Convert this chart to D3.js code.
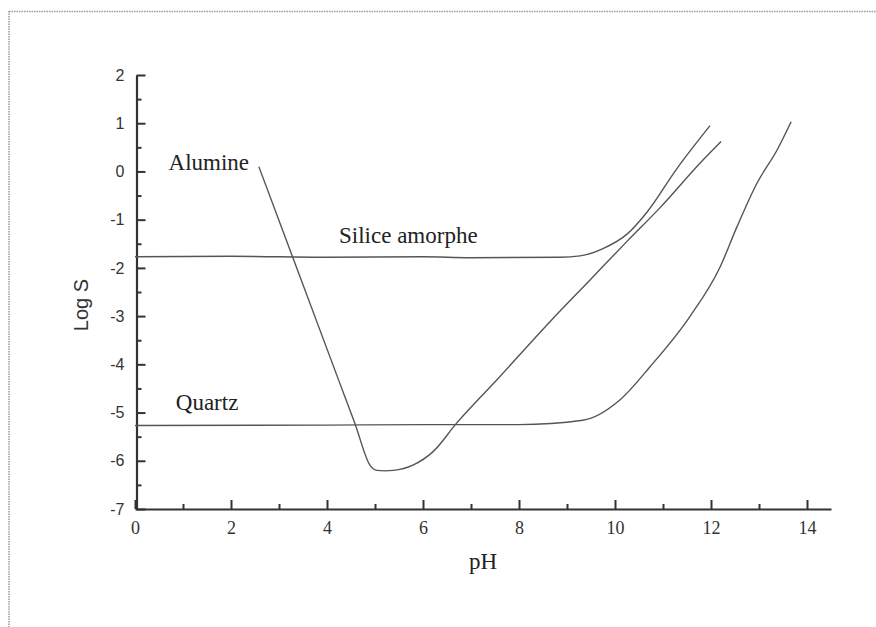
<!DOCTYPE html>
<html>
<head>
<meta charset="utf-8">
<script src="https://cdn.jsdelivr.net/npm/d3@7/dist/d3.min.js"></script>
<style>
  html, body { margin: 0; padding: 0; background: #fff; }
  svg { display: block; }
</style>
</head>
<body>
<svg id="chart" width="876" height="627"></svg>
<script>
// Solubility of silica and alumina phases versus pH
const xMajorTicks = [0, 2, 4, 6, 8, 10, 12, 14];
const xMinorTicks = [1, 3, 5, 7, 9, 11, 13];
const yMajorTicks = [2, 1, 0, -1, -2, -3, -4, -5, -6, -7];
const yMinorTicks = [1.5, 0.5, -0.5, -1.5, -2.5, -3.5, -4.5, -5.5, -6.5];

const aluminePH   = [2.58, 4.27, 4.58, 4.90, 5.04, 5.20, 5.38, 5.79, 6.21, 6.70, 7.54, 8.65, 9.48, 10.25, 10.94, 11.77, 12.21];
const alumineLogS = [0.10, -4.40, -5.22, -6.10, -6.20, -6.21, -6.20, -6.09, -5.81, -5.22, -4.32, -3.11, -2.25, -1.45, -0.75, 0.17, 0.62];

const silicePH   = [0, 2, 4, 6, 7, 8.85, 9.27, 9.75, 10.25, 10.67, 11.29, 11.98];
const siliceLogS = [-1.77, -1.76, -1.78, -1.77, -1.79, -1.78, -1.75, -1.60, -1.30, -0.84, 0.06, 0.95];

const quartzPH   = [0, 4, 6, 8, 9.33, 10.1, 10.73, 11.56, 12.19, 12.54, 12.96, 13.38, 13.67];
const quartzLogS = [-5.27, -5.26, -5.25, -5.25, -5.16, -4.74, -4.05, -3.01, -1.98, -1.15, -0.24, 0.45, 1.03];

const labelNames = ["Alumine", "Silice amorphe", "Quartz"];
const labelPH    = [0.70, 4.25, 0.85];
const labelLogS  = [0.03, -1.48, -4.95];

const svg = d3.select("#chart");

// page frame (dotted)
svg.append("line").attr("x1", 9).attr("y1", 11.5).attr("x2", 876).attr("y2", 11.5)
  .attr("stroke", "#9a9a9a").attr("stroke-width", 1.5).attr("stroke-dasharray", "1.5,1");
svg.append("line").attr("x1", 9).attr("y1", 11).attr("x2", 9).attr("y2", 627)
  .attr("stroke", "#9a9a9a").attr("stroke-width", 1.5).attr("stroke-dasharray", "1.5,1");

const x = d3.scaleLinear().domain([0, 14.5]).range([135, 831]);
const y = d3.scaleLinear().domain([-7, 2]).range([509, 75]);

const axisColor = "#333";
const fmt = d => String(d);

// x axis: major ticks with labels, minor ticks without
const gx = svg.append("g").attr("transform", `translate(0,${y(-7)})`);
gx.call(d3.axisBottom(x).tickValues(xMajorTicks).tickSizeInner(-9).tickSizeOuter(0).tickPadding(12).tickFormat(fmt));
gx.append("g").call(d3.axisBottom(x).tickValues(xMinorTicks).tickSizeInner(-5).tickSizeOuter(0).tickFormat(""))
  .select(".domain").remove();
gx.selectAll(".domain").attr("stroke", axisColor).attr("stroke-width", 2.2);
gx.selectAll(".tick line").attr("stroke", axisColor).attr("stroke-width", 2);
gx.selectAll(".tick text").attr("font-family", "'Liberation Serif', 'Times New Roman', serif")
  .attr("font-size", 18).attr("fill", "#333");

// y axis
const gy = svg.append("g").attr("transform", `translate(${x(0) + 1.5},0)`);
gy.call(d3.axisLeft(y).tickValues(yMajorTicks).tickSizeInner(-9).tickSizeOuter(0).tickPadding(12).tickFormat(fmt));
gy.append("g").call(d3.axisLeft(y).tickValues(yMinorTicks).tickSizeInner(-5).tickSizeOuter(0).tickFormat(""))
  .select(".domain").remove();
gy.selectAll(".domain").attr("stroke", axisColor).attr("stroke-width", 2.2);
gy.selectAll(".tick line").attr("stroke", axisColor).attr("stroke-width", 2);
gy.selectAll(".tick text").attr("font-family", "'Liberation Sans', Arial, sans-serif")
  .attr("font-size", 16).attr("fill", "#333");

// axis titles
svg.append("text").attr("x", 483).attr("y", 569).attr("text-anchor", "middle")
  .attr("font-family", "'Liberation Serif', 'Times New Roman', serif").attr("font-size", 23).attr("fill", "#222")
  .text("pH");
svg.append("text").attr("transform", "translate(88,305) rotate(-90)").attr("text-anchor", "middle")
  .attr("font-family", "'Liberation Sans', Arial, sans-serif").attr("font-size", 20).attr("fill", "#333")
  .text("Log S");

// curves
const line = d3.line().x(d => x(d[0])).y(d => y(d[1])).curve(d3.curveMonotoneX);
const series = [
  d3.zip(aluminePH, alumineLogS),
  d3.zip(silicePH, siliceLogS),
  d3.zip(quartzPH, quartzLogS)
];
svg.append("g").selectAll("path").data(series).join("path")
  .attr("d", line).attr("fill", "none").attr("stroke", "#555").attr("stroke-width", 1.4);

// curve labels
svg.append("g").selectAll("text").data(labelNames).join("text")
  .attr("x", (d, i) => x(labelPH[i])).attr("y", (d, i) => y(labelLogS[i]))
  .attr("font-family", "'Liberation Serif', 'Times New Roman', serif").attr("font-size", 23).attr("fill", "#222")
  .text(d => d);
</script>
</body>
</html>
